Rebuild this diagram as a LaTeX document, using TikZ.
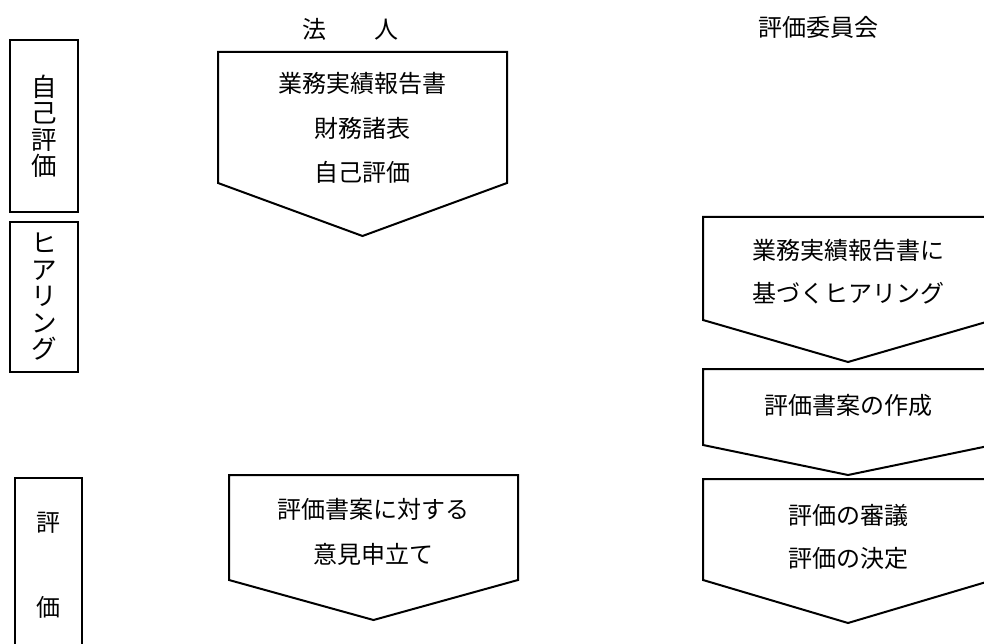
\documentclass[tikz,border=0pt]{standalone}
\usepackage{fontspec}
\setmainfont{Noto Sans CJK JP}
\begin{document}
\begin{tikzpicture}[x=1pt,y=-1pt,
  txt/.style={font=\fontsize{24}{44}\selectfont, inner sep=0pt, anchor=center, align=center},
  vbox/.style={draw=black, line width=2pt, inner sep=0pt, align=center,
     font=\fontsize{25.5}{26.5}\selectfont, minimum width=68pt},
  penta/.style={draw=black, line width=2pt, line join=miter}]
\useasboundingbox (0,0) rectangle (984,644);
\clip (0,0) rectangle (984,644);

% column headers
\node[txt] (hA) at (350,29) {法　　人};
\node[txt] (hB) at (818,27) {評価委員会};

% left stage boxes
\node[vbox, minimum height=172pt] (s1) at (44,126.5) {自\\己\\評\\価};
\node[vbox, minimum height=150pt] (s2) at (44,297) {ヒ\\ア\\リ\\ン\\グ};
\draw[penta] (15,478) rectangle (82,670);
\node[txt] (s3a) at (48.5,523) {評};
\node[txt] (s3b) at (48.5,607) {価};

% pentagon arrows
\draw[penta] (218,52) -- (507,52) -- (507,183) -- (362.5,236) -- (218,183) -- cycle;
\node[txt] (p1a) at (362.5,83) {業務実績報告書};
\node[txt] (p1b) at (362.5,128) {財務諸表};
\node[txt] (p1c) at (362.5,172) {自己評価};

\draw[penta] (703,217) -- (993,217) -- (993,320) -- (848,362) -- (703,320) -- cycle;
\node[txt] (p2a) at (848,250) {業務実績報告書に};
\node[txt] (p2b) at (848,293) {基づくヒアリング};

\draw[penta] (703,369) -- (993,369) -- (993,445) -- (848,475) -- (703,445) -- cycle;
\node[txt] (p3a) at (848,405) {評価書案の作成};

\draw[penta] (703,479) -- (993,479) -- (993,580) -- (848,623) -- (703,580) -- cycle;
\node[txt] (p4a) at (848,515) {評価の審議};
\node[txt] (p4b) at (848,558) {評価の決定};

\draw[penta] (229,475) -- (518,475) -- (518,580) -- (373.5,620) -- (229,580) -- cycle;
\node[txt] (p5a) at (373.5,509) {評価書案に対する};
\node[txt] (p5b) at (373.5,554) {意見申立て};
\end{tikzpicture}
\end{document}
